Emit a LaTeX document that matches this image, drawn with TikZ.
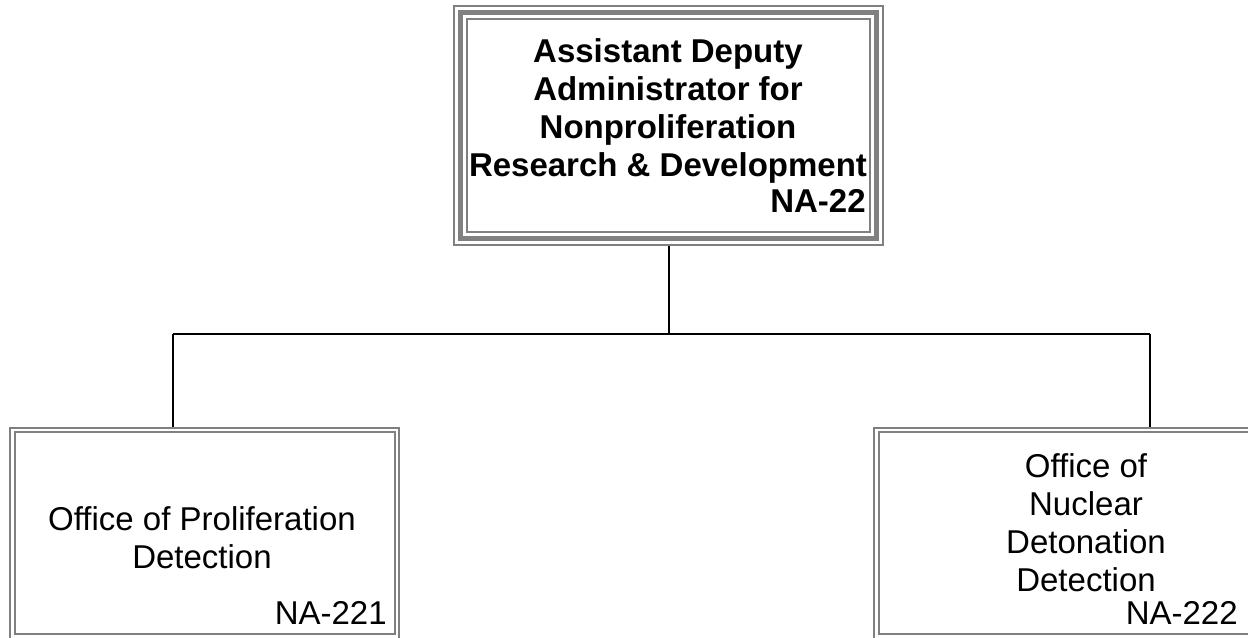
\documentclass[tikz,border=0pt]{standalone}
\usepackage{fontspec}
\setmainfont{Liberation Sans}
\definecolor{boxgray}{HTML}{808080}
\begin{document}
\begin{tikzpicture}[x=0.6pt,y=-0.6pt,
  frame/.style={draw=boxgray,line width=1.2pt,inner sep=0pt},
  thickframe/.style={draw=boxgray,line width=3.3pt},
  link/.style={draw=black,line width=0.9pt},
  bigtext/.style={font=\fontsize{19.8}{22.8}\selectfont,inner sep=0pt},
  boldtext/.style={font=\fontsize{19.8}{22.8}\selectfont\bfseries,inner sep=0pt}]
\useasboundingbox (0,0) rectangle (1248,638);
\clip (0,0) rectangle (1248,638);
\fill[white] (0,0) rectangle (1248,638);
% top box
\node[frame, minimum width=257.4pt, minimum height=143.4pt] (adm) at (668.5,125.5) {};
\draw[thickframe] (460.5,12.5) rectangle (876.5,238.5);
\draw[frame] (467,19) rectangle (870,232);
\node[boldtext, align=center, anchor=north] (admtext) at (668,38)
  {Assistant Deputy\\Administrator for\\Nonproliferation\\Research \& Development};
\node[boldtext, anchor=base east] (admcode) at (866,213) {NA-22};
% left box
\node[frame, minimum width=233.4pt, minimum height=139.2pt] (pd) at (204.5,544) {};
\draw[frame] (14.5,432.5) rectangle (394.5,634);
\node[bigtext, align=center, anchor=north] (pdtext) at (202,506)
  {Office of Proliferation\\Detection};
\node[bigtext, anchor=base east] (pdcode) at (387,624) {NA-221};
% right box
\node[frame, minimum width=255.6pt, minimum height=139.2pt] (ndd) at (1087,544) {};
\draw[frame] (878.5,432.5) rectangle (1295.5,634);
\node[bigtext, align=center, anchor=north] (nddtext) at (1086,453)
  {Office of\\Nuclear\\Detonation\\Detection};
\node[bigtext, anchor=base east] (nddcode) at (1238,624) {NA-222};
% connectors
\coordinate (bus) at (669,334);
\coordinate (busl) at (173,334);
\coordinate (busr) at (1150,334);
\draw[link] (adm.south -| bus) -- (bus);
\draw[link] (busl) -- (busr);
\draw[link] (busl) -- (busl |- pd.north);
\draw[link] (busr) -- (busr |- ndd.north);
\end{tikzpicture}
\end{document}
